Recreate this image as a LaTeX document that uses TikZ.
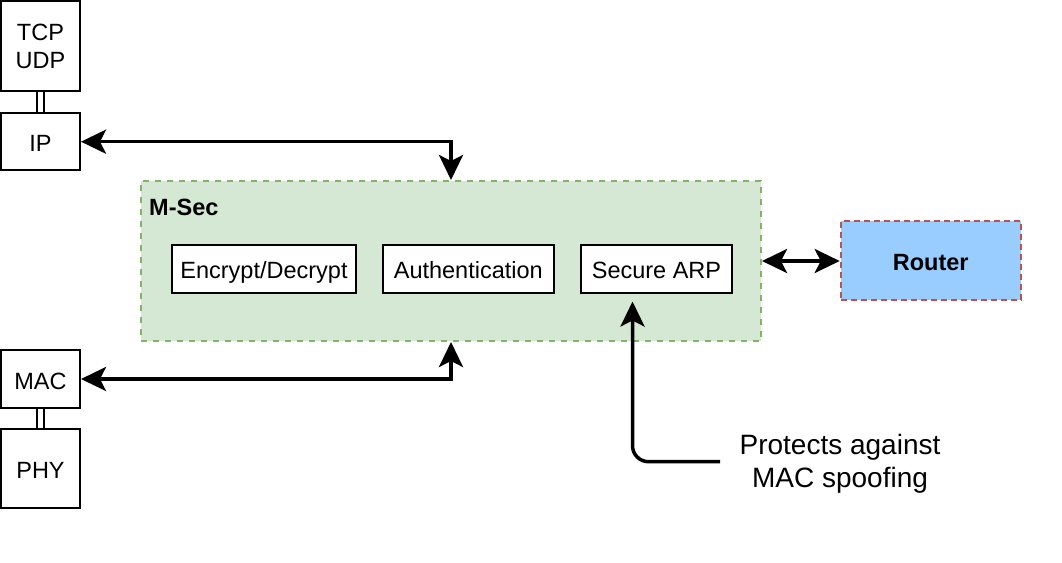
\documentclass[tikz,border=0pt]{standalone}
\usepackage{fontspec}
\setmainfont{Liberation Sans}
\usetikzlibrary{arrows.meta}
\definecolor{msecfill}{HTML}{D5E8D4}
\definecolor{msecline}{HTML}{82B366}
\definecolor{routerfill}{HTML}{99CCFF}
\definecolor{routerline}{HTML}{B85450}
\newcommand{\lblfont}{\fontsize{23.5}{28}\selectfont}
\newcommand{\notefont}{\fontsize{28}{33}\selectfont}
\tikzset{bigtip/.tip={Stealth[length=25pt,width=24pt,inset=6pt]}}
\begin{document}
\begin{tikzpicture}[x=1pt,y=-1pt,
  layer/.style={draw=black, line width=2pt, fill=white, inner sep=0pt, font=\lblfont, align=center},
  oneline/.style={text height=20pt, text depth=0pt},
  group/.style={draw=msecline, fill=msecfill, line width=2pt, dash pattern=on 6pt off 6pt, inner sep=0pt},
  routerbox/.style={draw=routerline, fill=routerfill, line width=2pt, dash pattern=on 6pt off 4pt, inner sep=0pt, font=\lblfont\bfseries},
  conn/.style={draw=black, line width=3.5pt},
  link/.style={draw=black, line width=2pt, double=white, double distance=4.7pt}
]
\useasboundingbox (0,0) rectangle (1062,562);

% protocol stack
\node[layer, minimum width=79pt, minimum height=90pt] (tcp) at (40.5,46) {TCP\\UDP};
\node[layer, oneline, minimum width=79pt, minimum height=57pt] (ip) at (40.5,141.7) {IP};
\node[layer, oneline, minimum width=79pt, minimum height=58pt] (mac) at (40.5,379) {MAC};
\node[layer, oneline, minimum width=79pt, minimum height=79pt] (phy) at (40.5,468) {PHY};
\draw[link] (tcp.south) -- (ip.north);
\draw[link] (mac.south) -- (phy.north);

% M-Sec group
\node[group, minimum width=620pt, minimum height=160pt] (msec) at (451,261) {};
\node[anchor=base west, inner sep=0pt, font=\lblfont\bfseries] (mseclbl) at (149,215.7) {M-Sec};
\node[layer, oneline, minimum width=184pt, minimum height=48pt] (enc) at (264,268.5) {Encrypt/Decrypt};
\node[layer, oneline, minimum width=171pt, minimum height=48pt] (auth) at (468.3,268.5) {Authentication};
\node[layer, oneline, minimum width=151pt, minimum height=48pt] (arp) at (656.5,268.5) {Secure ARP};

% router
\node[routerbox, oneline, minimum width=180pt, minimum height=79pt] (router) at (930.7,260.5) {Router};

% note
\node[inner sep=0pt, font=\notefont, align=center] (note) at (840,463.5) {Protects against\\MAC spoofing};
\coordinate (pstart) at (720,461.7);
\coordinate (ptip) at (632.5,301.5);

% connectors
\draw[conn, {bigtip}-{bigtip}] (msec.north) -- (msec.north |- ip.east) -- (ip.east);
\draw[conn, {bigtip}-{bigtip}] (msec.south) -- (msec.south |- mac.east) -- (mac.east);
\draw[conn, {bigtip}-{bigtip}] (msec.east) -- (msec.east -| router.west);
\draw[conn, -{bigtip}, rounded corners=16pt] (pstart) -- (pstart -| ptip) -- (ptip);
\end{tikzpicture}
\end{document}
